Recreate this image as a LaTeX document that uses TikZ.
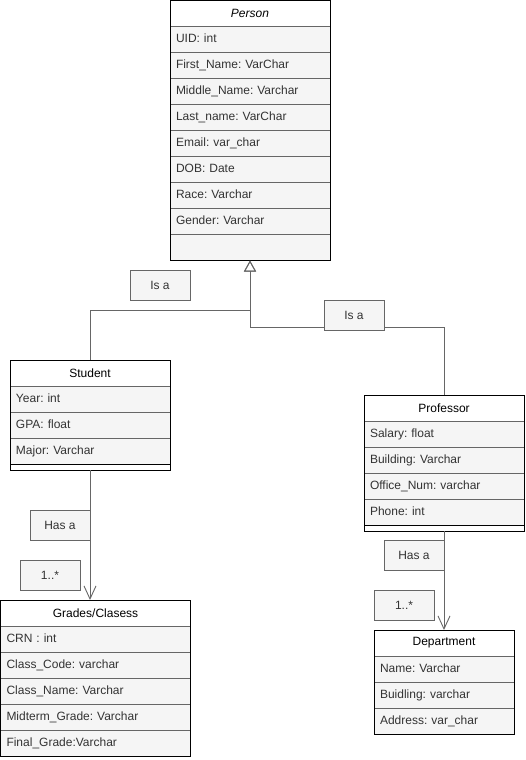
\documentclass[tikz,border=0pt]{standalone}
\usepackage{fontspec}
\setmainfont{Liberation Sans}
\usetikzlibrary{arrows.meta,positioning}
\definecolor{rowfill}{HTML}{F5F5F5}
\definecolor{linegray}{HTML}{666666}
\definecolor{txtgray}{HTML}{333333}
\frenchspacing

\begin{document}
\begin{tikzpicture}[x=1pt, y=-1pt, line width=0.9pt, font=\fontsize{12}{14}\selectfont,
	classhdr/.style={draw=black, fill=white, minimum width=#1, minimum height=26pt, inner sep=0pt, outer sep=0pt, anchor=north west},
	attr/.style={draw=linegray, fill=rowfill, text=txtgray, text width=#1, inner xsep=6pt, inner ysep=0pt, outer sep=0pt, minimum height=26pt, text height=9pt, text depth=3pt, align=left},
	classfoot/.style={draw=black, fill=white, minimum width=#1, minimum height=6pt, inner sep=0pt, outer sep=0pt},
	tagbox/.style={draw=linegray, fill=rowfill, text=txtgray, minimum width=60pt, minimum height=30pt, inner sep=0pt},
	isa/.style={draw=linegray, -{Triangle[open, length=11pt, width=12pt]}},
	hasa/.style={draw=linegray, -{Straight Barb[length=13pt, width=12pt]}}]
	\useasboundingbox (0,0) rectangle (525,760);
	% Person
	\node[classhdr=160pt, font=\fontsize{12}{14}\selectfont\itshape] (person) at (170,0.5) {Person};
	\node[attr=148pt, below=0pt of person] (uid) {UID: int};
	\node[attr=148pt, below=0pt of uid] (fname) {First\_Name: VarChar};
	\node[attr=148pt, below=0pt of fname] (mname) {Middle\_Name: Varchar};
	\node[attr=148pt, below=0pt of mname] (lname) {Last\_name: VarChar};
	\node[attr=148pt, below=0pt of lname] (email) {Email: var\_char};
	\node[attr=148pt, below=0pt of email] (dob) {DOB: Date};
	\node[attr=148pt, below=0pt of dob] (race) {Race: Varchar};
	\node[attr=148pt, below=0pt of race] (gender) {Gender: Varchar};
	\node[attr=148pt, below=0pt of gender] (pblank) {};
	\draw (person.north west) rectangle (pblank.south east);
	% Student
	\node[classhdr=160pt] (student) at (10,360) {Student};
	\node[attr=148pt, below=0pt of student] (year) {Year: int};
	\node[attr=148pt, below=0pt of year] (gpa) {GPA: float};
	\node[attr=148pt, below=0pt of gpa] (major) {Major: Varchar};
	\node[classfoot=160pt, below=0pt of major] (stuend) {};
	\draw (student.north west) rectangle (stuend.south east);
	% Professor
	\node[classhdr=160pt] (professor) at (364,395) {Professor};
	\node[attr=148pt, below=0pt of professor] (salary) {Salary: float};
	\node[attr=148pt, below=0pt of salary] (building) {Building: Varchar};
	\node[attr=148pt, below=0pt of building] (office) {Office\_Num: varchar};
	\node[attr=148pt, below=0pt of office] (phone) {Phone: int};
	\node[classfoot=160pt, below=0pt of phone] (profend) {};
	\draw (professor.north west) rectangle (profend.south east);
	% Grades/Clasess
	\node[classhdr=190pt] (grades) at (0.5,600) {Grades/Clasess};
	\node[attr=178pt, below=0pt of grades] (crn) {CRN : int};
	\node[attr=178pt, below=0pt of crn] (ccode) {Class\_Code: varchar};
	\node[attr=178pt, below=0pt of ccode] (cname) {Class\_Name: Varchar};
	\node[attr=178pt, below=0pt of cname] (midterm) {Midterm\_Grade: Varchar};
	\node[attr=178pt, below=0pt of midterm] (final) {Final\_Grade:Varchar};
	\draw (grades.north west) rectangle (final.south east);
	% Department
	\node[classhdr=140pt] (dept) at (374,630) {Department};
	\node[attr=128pt, below=0pt of dept] (dname) {Name: Varchar};
	\node[attr=128pt, below=0pt of dname] (dbuild) {Buidling: varchar};
	\node[attr=128pt, below=0pt of dbuild] (daddr) {Address: var\_char};
	\draw (dept.north west) rectangle (daddr.south east);
	% connectors
	\draw[isa] (student.north) -- ++(0,-50) -| (pblank.south);
	\draw[isa] (professor.north) -- ++(0,-68) -| (pblank.south);
	\draw[hasa] (stuend.south) -- (stuend.south |- grades.north);
	\draw[hasa] (profend.south) -- (profend.south |- dept.north);
	% labels
	\node[tagbox] (isa1) at (160,285) {Is a};
	\node[tagbox] (isa2) at (354,315) {Is a};
	\node[tagbox] (hasa1) at (60,525) {Has a};
	\node[tagbox] (mult1) at (50,575) {1..*};
	\node[tagbox] (hasa2) at (414,555) {Has a};
	\node[tagbox] (mult2) at (404,605) {1..*};
\end{tikzpicture}
\end{document}
